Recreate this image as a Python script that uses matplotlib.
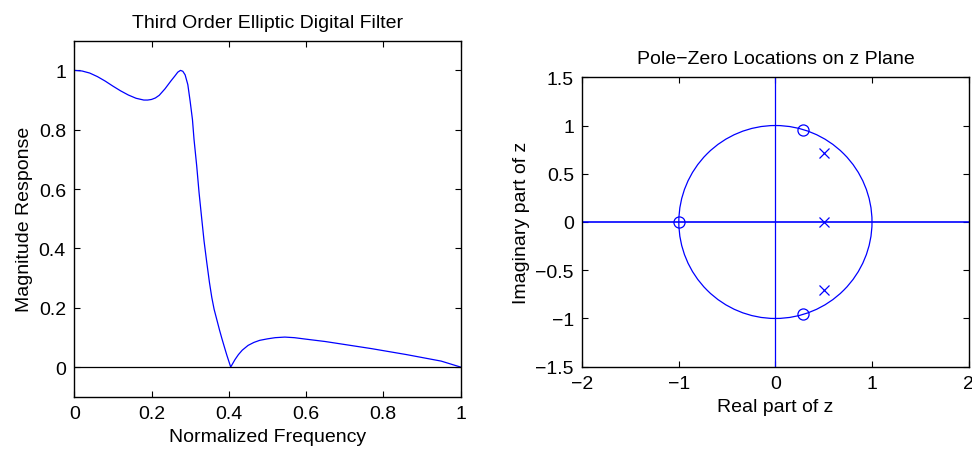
import numpy as np
import matplotlib
matplotlib.use("Agg")
import matplotlib.pyplot as plt
from matplotlib.patches import Circle

plt.rcParams['font.family'] = ['Liberation Sans', 'DejaVu Sans']
plt.rcParams['font.size'] = 14
plt.rcParams['axes.unicode_minus'] = True

# magnitude response
freq = [0.0, 0.02, 0.04, 0.06, 0.08, 0.10, 0.12, 0.14, 0.16, 0.18,
        0.19, 0.20, 0.21, 0.22, 0.235, 0.25, 0.261, 0.268, 0.275, 0.281,
        0.287, 0.294, 0.300, 0.306, 0.310, 0.317, 0.323, 0.330, 0.336, 0.343,
        0.350, 0.356, 0.362, 0.369, 0.376, 0.382, 0.389, 0.395, 0.400, 0.405,
        0.416, 0.425, 0.435, 0.450, 0.465, 0.480, 0.500, 0.520, 0.545, 0.570,
        0.600, 0.650, 0.700, 0.770, 0.860, 0.950, 1.0]
mag = [1.0, 0.998, 0.991, 0.979, 0.964, 0.947, 0.931, 0.917, 0.906, 0.900,
       0.900, 0.902, 0.907, 0.916, 0.938, 0.964, 0.982, 0.994, 1.0, 0.997,
       0.985, 0.952, 0.896, 0.834, 0.768, 0.678, 0.589, 0.500, 0.425, 0.353,
       0.285, 0.235, 0.195, 0.160, 0.125, 0.097, 0.066, 0.040, 0.020, 0.0,
       0.025, 0.042, 0.057, 0.073, 0.083, 0.090, 0.095, 0.099, 0.101, 0.099,
       0.094, 0.086, 0.076, 0.062, 0.042, 0.020, 0.0]

# pole / zero locations
zeros_re = [-1.0, 0.29, 0.29]
zeros_im = [0.0, 0.957, -0.957]
poles_re = [0.5, 0.5, 0.5]
poles_im = [0.0, 0.71, -0.71]
unit_radius = 1.0

fig = plt.figure(figsize=(9.72, 4.52), dpi=100)

ax1 = fig.add_axes([0.0764, 0.1201, 0.3974, 0.7876])
ax1.plot(freq, mag, color='blue', linewidth=0.9)
ax1.plot([0, 1], [0, 0], color='black', linewidth=0.9)
ax1.set_xlim(0, 1)
ax1.set_ylim(-0.1, 1.1)
ax1.set_xticks([0, 0.2, 0.4, 0.6, 0.8, 1])
ax1.set_xticklabels(['0', '0.2', '0.4', '0.6', '0.8', '1'])
ax1.set_yticks([0, 0.2, 0.4, 0.6, 0.8, 1])
ax1.set_yticklabels(['0', '0.2', '0.4', '0.6', '0.8', '1'])
ax1.set_title("Third Order Elliptic Digital Filter", fontsize=14, pad=10)
ax1.set_xlabel("Normalized Frequency")
ax1.set_ylabel("Magnitude Response")

ax2 = fig.add_axes([0.599, 0.1865, 0.3975, 0.6403])
ax2.add_patch(Circle((0, 0), unit_radius, fill=False, edgecolor='blue', linewidth=0.9))
ax2.plot([-2, 2], [0, 0], color='blue', linewidth=1.2)
ax2.plot([0, 0], [-1.5, 1.5], color='blue', linewidth=0.9)
ax2.plot(zeros_re, zeros_im, linestyle='none', marker='o', markersize=8,
         markerfacecolor='none', markeredgecolor='blue', markeredgewidth=0.9)
ax2.plot(poles_re, poles_im, linestyle='none', marker='x', markersize=7,
         color='blue', markeredgewidth=0.9)
ax2.set_xlim(-2, 2)
ax2.set_ylim(-1.5, 1.5)
ax2.set_xticks([-2, -1, 0, 1, 2])
ax2.set_yticks([-1.5, -1, -0.5, 0, 0.5, 1, 1.5])
ax2.set_yticklabels(['\u22121.5', '\u22121', '\u22120.5', '0', '0.5', '1', '1.5'])
ax2.set_title("Pole\u2212Zero Locations on z Plane", fontsize=14, pad=10)
ax2.set_xlabel("Real part of z")
ax2.set_ylabel("Imaginary part of z")

for ax in (ax1, ax2):
    ax.tick_params(direction='in', length=4, width=0.8, top=True, right=True,
                   labelsize=14, pad=6)
    for s in ax.spines.values():
        s.set_linewidth(1.0)

fig.savefig("out.png", dpi=100)
